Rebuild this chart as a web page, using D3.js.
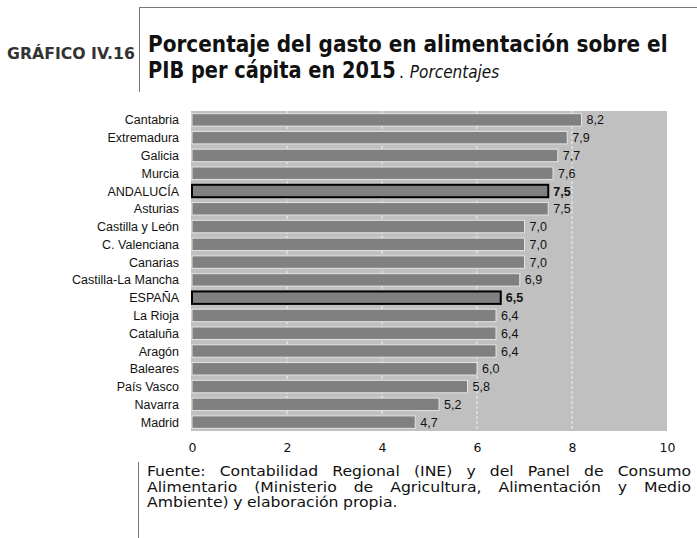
<!DOCTYPE html>
<html>
<head>
<meta charset="utf-8">
<script src="https://cdn.jsdelivr.net/npm/d3@7"></script>
<style>
  body { margin: 0; background: #fff; }
  svg { display: block; }
</style>
</head>
<body>
<svg id="chart" width="697" height="538"></svg>
<script>
// data
const regions = ["Cantabria", "Extremadura", "Galicia", "Murcia", "ANDALUCÍA", "Asturias",
  "Castilla y León", "C. Valenciana", "Canarias", "Castilla-La Mancha", "ESPAÑA", "La Rioja",
  "Cataluña", "Aragón", "Baleares", "País Vasco", "Navarra", "Madrid"];
const values = [8.2, 7.9, 7.7, 7.6, 7.5, 7.5, 7.0, 7.0, 7.0, 6.9, 6.5, 6.4, 6.4, 6.4, 6.0, 5.8, 5.2, 4.7];
const highlighted = ["ANDALUCÍA", "ESPAÑA"];
const xTicks = [0, 2, 4, 6, 8, 10];
const sourceLines = [
  "Fuente: Contabilidad Regional (INE) y del Panel de Consumo",
  "Alimentario (Ministerio de Agricultura, Alimentación y Medio",
  "Ambiente) y elaboración propia."
];

// squeeze a text horizontally to a given width
const fitWidth = function (sel, x0, y0, w) {
  const natural = sel.node().getComputedTextLength();
  sel.attr("x", 0).attr("y", 0)
    .attr("transform", `translate(${x0},${y0}) scale(${w / natural},1)`);
};

const drawChart = function () {
  let svg = d3.select("svg#chart");

  const rows = regions.map((r, i) => ({ region: r, value: values[i] }));

  // header frame
  svg.append("line").attr("x1", 139).attr("x2", 697).attr("y1", 7.5).attr("y2", 7.5)
    .style("stroke", "#777").style("stroke-width", 1);
  svg.append("line").attr("x1", 139.5).attr("x2", 139.5).attr("y1", 7).attr("y2", 92)
    .style("stroke", "#777").style("stroke-width", 1);

  const tag = svg.append("text")
    .style("font-family", "'DejaVu Sans', sans-serif")
    .style("font-weight", "bold").style("font-size", "15px").style("fill", "#333")
    .text("GRÁFICO IV.16");
  fitWidth(tag, 7, 59, 128);

  const titleFont = "'DejaVu Sans Condensed', 'Liberation Sans Narrow', sans-serif";
  const t1 = svg.append("text")
    .style("font-family", titleFont).style("font-weight", "bold").style("font-size", "23px")
    .style("fill", "#111")
    .text("Porcentaje del gasto en alimentación sobre el");
  fitWidth(t1, 148, 52, 520);

  const t2 = svg.append("text")
    .style("font-family", titleFont).style("font-weight", "bold").style("font-size", "23px")
    .style("fill", "#111")
    .text("PIB per cápita en 2015");
  fitWidth(t2, 148, 78, 248);

  const t3 = svg.append("text").attr("x", 399).attr("y", 78)
    .style("font-family", titleFont).style("font-size", "17px").style("fill", "#111");
  t3.append("tspan").text(".");
  t3.append("tspan").attr("dx", 6).style("font-style", "italic").text("Porcentajes");

  // plot
  const x = d3.scaleLinear().domain([0, 10]).range([192, 667]);
  const y = d3.scaleBand().domain(regions).range([111, 431]).paddingInner(0.3).paddingOuter(0.15);

  svg.append("rect").attr("x", 191).attr("y", 111).attr("width", 476).attr("height", 320)
    .style("fill", "#c0c0c0");

  svg.append("g").selectAll("line.grid")
    .data(xTicks.filter(d => d > 0 && d < 10))
    .join("line")
    .attr("class", "grid")
    .attr("x1", d => x(d)).attr("x2", d => x(d))
    .attr("y1", 111).attr("y2", 431)
    .style("stroke", "#f2f2f2").style("stroke-width", 1).style("stroke-dasharray", "3,2");

  svg.append("g").selectAll("rect.bar")
    .data(rows)
    .join("rect")
    .attr("class", "bar")
    .attr("x", x(0))
    .attr("y", d => y(d.region))
    .attr("width", d => x(d.value) - x(0))
    .attr("height", y.bandwidth())
    .style("fill", "#808080")
    .style("stroke", d => highlighted.includes(d.region) ? "#000" : "#e4e4e4")
    .style("stroke-width", d => highlighted.includes(d.region) ? 2 : 1);

  svg.append("g").selectAll("text.val")
    .data(rows)
    .join("text")
    .attr("class", "val")
    .attr("x", d => x(d.value) + 5)
    .attr("y", d => y(d.region) + y.bandwidth() / 2 + 4.5)
    .style("font-family", "'Liberation Sans', Arial, sans-serif")
    .style("font-size", "12.5px")
    .style("font-weight", d => highlighted.includes(d.region) ? "bold" : "normal")
    .style("fill", "#111")
    .text(d => d3.format(".1f")(d.value).replace(".", ","));

  svg.append("g").selectAll("text.cat")
    .data(rows)
    .join("text")
    .attr("class", "cat")
    .attr("x", 179)
    .attr("y", d => y(d.region) + y.bandwidth() / 2 + 4.5)
    .attr("text-anchor", "end")
    .style("font-family", "'Liberation Sans', Arial, sans-serif")
    .style("font-size", "12.5px")
    .style("fill", "#111")
    .text(d => d.region);

  const xAxis = d3.axisBottom(x).tickValues(xTicks).tickSize(0).tickPadding(0);
  const gx = svg.append("g").attr("transform", "translate(0,443)").call(xAxis);
  gx.select(".domain").remove();
  gx.selectAll("text")
    .style("font-family", "'DejaVu Sans', Verdana, sans-serif")
    .style("font-size", "12.5px").style("fill", "#111");

  // source note, justified word by word
  svg.append("line").attr("x1", 138.5).attr("x2", 138.5).attr("y1", 462).attr("y2", 538)
    .style("stroke", "#777").style("stroke-width", 1);

  const srcFont = "'DejaVu Sans Condensed', 'Liberation Sans Narrow', sans-serif";
  const left = 147, right = 691, stretch = 1.2;
  sourceLines.forEach((line, i) => {
    const yy = 476 + i * 15.5;
    const words = line.split(" ");
    const g = svg.append("g");
    const ws = words.map(w => g.append("text").attr("y", yy)
      .style("font-family", srcFont).style("font-size", "14.5px").style("fill", "#111").text(w));
    const widths = ws.map(t => t.node().getComputedTextLength() * stretch);
    ws.forEach((t, j) => t.attr("textLength", widths[j]).attr("lengthAdjust", "spacingAndGlyphs"));
    const total = d3.sum(widths);
    const justify = i < sourceLines.length - 1;
    const gap = justify ? (right - left - total) / (words.length - 1) : 4.5;
    let cx = left;
    ws.forEach((t, j) => { t.attr("x", cx); cx += widths[j] + gap; });
  });
};

drawChart();
</script>
</body>
</html>
